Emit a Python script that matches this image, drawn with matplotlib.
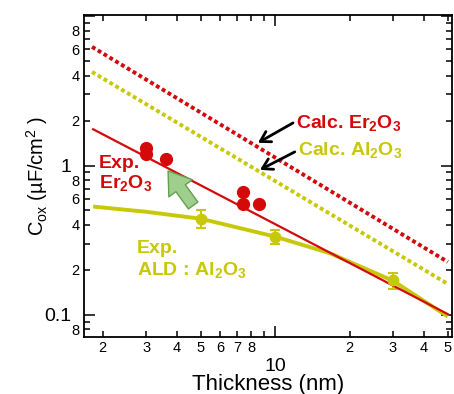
import numpy as np
import matplotlib
matplotlib.use("Agg")
import matplotlib.pyplot as plt
from matplotlib.ticker import FixedLocator, FixedFormatter

plt.rcParams['font.family'] = ['Liberation Sans', 'DejaVu Sans']
plt.rcParams['mathtext.fontset'] = 'custom'
plt.rcParams['mathtext.rm'] = 'Liberation Sans'
plt.rcParams['mathtext.it'] = 'Liberation Sans'
plt.rcParams['mathtext.bf'] = 'Liberation Sans:bold'

RED = '#d40a0a'
YEL = '#c8c80a'

# calculated capacitance (dotted)
calc_x = [1.81, 50]
calc_er = [6.24, 0.226]
calc_al = [4.24, 0.161]

# experimental Er2O3
fit_er_x = [1.83, 50]
fit_er_y = [1.75, 0.101]
exp_er_x = [3.0, 3.0, 3.6, 7.4, 7.4, 8.6]
exp_er_y = [1.32, 1.19, 1.10, 0.66, 0.55, 0.55]

# experimental ALD Al2O3
fit_al_x = [1.83, 3, 5, 7, 10, 16.6, 30, 50]
fit_al_y = [0.531, 0.49, 0.44, 0.385, 0.334, 0.259, 0.169, 0.0974]
exp_al_x = [5, 10, 30]
exp_al_y = [0.44, 0.334, 0.17]
exp_al_err = [0.06, 0.036, 0.021]

fig = plt.figure(figsize=(4.54, 3.94), dpi=100)
ax = fig.add_axes([84/454, 1-337/394, 368/454, 322/394])
ax.set_xscale('log')
ax.set_yscale('log')
ax.set_xlim(1.68, 52)
ax.set_ylim(0.071, 10.2)

dots = (0, (1, 0.75))
ax.plot(calc_x, calc_er, color=RED, lw=2.8, linestyle=dots, dash_capstyle='butt')
ax.plot(calc_x, calc_al, color=YEL, lw=2.8, linestyle=dots, dash_capstyle='butt')

ax.plot(fit_al_x, fit_al_y, color=YEL, lw=2.8, solid_capstyle='butt')
ax.errorbar(exp_al_x, exp_al_y, yerr=exp_al_err, fmt='o', color=YEL,
            ms=7.5, elinewidth=1.5, capsize=3.5, capthick=1.5)
ax.plot(fit_er_x, fit_er_y, color=RED, lw=1.6)
ax.plot(exp_er_x, exp_er_y, 'o', color=RED, ms=8.5)

# labels
ax.text(12.1, 1.93, r'Calc. Er$_\mathbf{2}$O$_\mathbf{3}$', color=RED,
        fontsize=14, fontweight='bold', va='center', ha='left')
ax.text(12.35, 1.27, r'Calc. Al$_\mathbf{2}$O$_\mathbf{3}$', color=YEL,
        fontsize=14, fontweight='bold', va='center', ha='left')
ax.text(1.93, 0.88, 'Exp.\n' + r'Er$_\mathbf{2}$O$_\mathbf{3}$', color=RED,
        fontsize=14, fontweight='bold', va='center', ha='left', linespacing=1.1)
ax.text(2.75, 0.232, 'Exp.\n' + r'ALD : Al$_\mathbf{2}$O$_\mathbf{3}$', color=YEL,
        fontsize=14, fontweight='bold', va='center', ha='left', linespacing=1.2)

blk = dict(arrowstyle='->,head_length=0.5,head_width=0.3', color='black', lw=2,
           shrinkA=0, shrinkB=0, mutation_scale=14)
ax.annotate('', xy=(8.51, 1.42), xytext=(11.8, 1.93), arrowprops=blk)
ax.annotate('', xy=(8.67, 0.936), xytext=(12.0, 1.235), arrowprops=blk)

ax.annotate('', xy=(3.68, 0.92), xytext=(4.65, 0.54),
            arrowprops=dict(arrowstyle='simple,head_length=1.1,head_width=1.5,tail_width=0.6',
                            fc='#9fcf8c', ec='#62a050', lw=1, shrinkA=0, shrinkB=0,
                            mutation_scale=14))

# ticks
ax.xaxis.set_major_locator(FixedLocator([10]))
ax.xaxis.set_major_formatter(FixedFormatter(['10']))
xminor = [2, 3, 4, 5, 6, 7, 8, 9, 20, 30, 40, 50]
xminor_lab = ['2', '3', '4', '5', '6', '7', '8', '', '2', '3', '4', '5']
ax.xaxis.set_minor_locator(FixedLocator(xminor))
ax.xaxis.set_minor_formatter(FixedFormatter(xminor_lab))

ax.yaxis.set_major_locator(FixedLocator([0.1, 1, 10]))
ax.yaxis.set_major_formatter(FixedFormatter(['0.1', '1', '']))
yminor = [0.08, 0.09, 0.2, 0.3, 0.4, 0.5, 0.6, 0.7, 0.8, 0.9,
          2, 3, 4, 5, 6, 7, 8, 9]
yminor_lab = ['8', '', '2', '', '4', '', '6', '', '8', '',
              '2', '', '4', '', '6', '', '8', '']
ax.yaxis.set_minor_locator(FixedLocator(yminor))
ax.yaxis.set_minor_formatter(FixedFormatter(yminor_lab))

ax.tick_params(which='both', direction='in', top=True, right=True, width=1.1)
ax.tick_params(which='major', length=8, labelsize=14)
ax.tick_params(which='minor', length=4.5, labelsize=10.5)
ax.tick_params(axis='x', which='major', pad=15)
ax.tick_params(axis='x', which='minor', pad=3)
ax.tick_params(axis='y', which='major', pad=9)
ax.tick_params(axis='y', which='minor', pad=3)
for s in ax.spines.values():
    s.set_linewidth(1.3)

ax.set_xlabel('Thickness (nm)', fontsize=16)
ax.xaxis.set_label_coords(0.5, -0.115)
ax.set_ylabel(r'C$_\mathregular{ox}$ (µF/cm$^\mathregular{2}$ )', fontsize=14.5)
ax.yaxis.set_label_coords(-0.128, 0.5)
ax.yaxis.label.set_va('center')

fig.savefig('out.png', dpi=100)
